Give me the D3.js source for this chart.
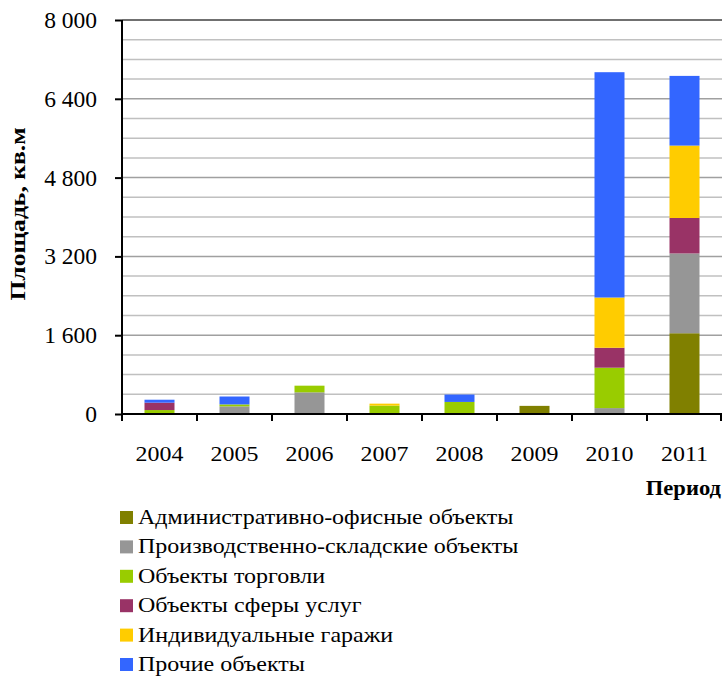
<!DOCTYPE html>
<html>
<head>
<meta charset="utf-8">
<script src="https://cdn.jsdelivr.net/npm/d3@7"></script>
<style>
  html, body { margin: 0; padding: 0; background: #fff; }
  svg { display: block; }
  text { font-family: "Liberation Serif", "Times New Roman", serif; fill: #000; }
</style>
</head>
<body>
<svg id="chart" width="722" height="676"></svg>
<script>
// ---- data ----
const years = ["2004", "2005", "2006", "2007", "2008", "2009", "2010", "2011"];
const seriesNames = [
  "Административно-офисные объекты",
  "Производственно-складские объекты",
  "Объекты торговли",
  "Объекты сферы услуг",
  "Индивидуальные гаражи",
  "Прочие объекты"
];
const adminOffice = [0, 0, 15, 0, 0, 165, 0, 1640];
const industrialWarehouse = [0, 155, 425, 0, 0, 0, 120, 1620];
const trade = [80, 40, 135, 170, 245, 0, 820, 0];
const services = [150, 0, 0, 0, 0, 0, 405, 720];
const garages = [0, 0, 0, 40, 0, 0, 1020, 1470];
const other = [60, 160, 0, 0, 150, 0, 4575, 1415];
const yTicks = [0, 1600, 3200, 4800, 6400, 8000];
const yTitle = "Площадь, кв.м";
const xTitle = "Период";

const seriesValues = [adminOffice, industrialWarehouse, trade, services, garages, other];
const colors = ["#808000", "#969696", "#99CC00", "#993366", "#FFCC00", "#3366FF"];

(function () {
// ---- layout ----
const svg = d3.select("#chart");
const pLeft = 122, pRight = 722, pTop = 20, pBottom = 414;
const serif = "Liberation Serif, Times New Roman, serif";

const x = d3.scaleBand().domain(years).range([pLeft, pRight]).padding(0);
const y = d3.scaleLinear().domain([0, 8000]).range([pBottom, pTop]);

const locale = d3.formatLocale({ decimal: ",", thousands: " ", grouping: [3], currency: ["", ""] });
const fmt = locale.format(",d");

// gridlines every 400
const gridVals = d3.range(400, 8001, 400);
svg.append("g").selectAll("line").data(gridVals).join("line")
  .attr("x1", pLeft).attr("x2", pRight)
  .attr("y1", d => y(d)).attr("y2", d => y(d))
  .attr("stroke", d => d === 8000 ? "#404040" : (d % 1600 === 0 ? "#a0a0a0" : "#c0c0c0"))
  .attr("stroke-width", 1.5);

// stacked data
const table = years.map((yr, i) => {
  const o = { year: yr };
  seriesNames.forEach((s, j) => { o[s] = seriesValues[j][i]; });
  return o;
});
const stack = d3.stack().keys(seriesNames)(table);

const bw = x.bandwidth() * 0.4;
svg.append("g").selectAll("g").data(stack).join("g")
  .attr("fill", (d, i) => colors[i])
  .selectAll("rect").data(d => d.filter(p => p[1] - p[0] > 0)).join("rect")
  .attr("x", d => x(d.data.year) + (x.bandwidth() - bw) / 2)
  .attr("width", bw)
  .attr("y", d => y(d[1]))
  .attr("height", d => y(d[0]) - y(d[1]));

// y axis
const yAxis = d3.axisLeft(y).tickValues(yTicks).tickFormat(fmt).tickSize(7).tickPadding(18);
const gy = svg.append("g").attr("transform", `translate(${pLeft},0)`).call(yAxis);
gy.select(".domain").attr("stroke", "#000").attr("stroke-width", 2).attr("d", `M0,${pTop}V${pBottom}`);
gy.selectAll(".tick line").attr("stroke", "#000").attr("stroke-width", 2);
gy.selectAll(".tick text").attr("font-size", 23.5).attr("font-family", serif);

// x axis
const xAxis = d3.axisBottom(x).tickSize(0).tickPadding(32);
const gx = svg.append("g").attr("transform", `translate(0,${pBottom})`).call(xAxis);
gx.select(".domain").attr("stroke", "#000").attr("stroke-width", 2).attr("d", `M${pLeft},0H${pRight}`);
gx.selectAll(".tick text")
  .attr("font-size", 21).attr("font-family", serif)
  .attr("transform", "scale(1.14,1)")
  .attr("x", 0);
// category boundary ticks
const bounds = years.map(yv => x(yv)).concat([pRight - 1]);
gx.append("g").selectAll("line").data(bounds).join("line")
  .attr("x1", d => d).attr("x2", d => d).attr("y1", 0).attr("y2", 7)
  .attr("stroke", "#000").attr("stroke-width", 2);

// titles
svg.append("text")
  .attr("transform", "translate(25,214) rotate(-90) scale(1.28,1)")
  .attr("text-anchor", "middle")
  .attr("font-size", 20).attr("font-weight", "bold")
  .text(yTitle);
svg.append("text")
  .attr("transform", "translate(721,495) scale(1.13,1)")
  .attr("text-anchor", "end")
  .attr("font-size", 20).attr("font-weight", "bold")
  .text(xTitle);

// legend
const lg = svg.append("g");
seriesNames.forEach((s, i) => {
  const cy = 517.5 + i * 29.4;
  lg.append("rect").attr("x", 120).attr("y", cy - 6.5).attr("width", 13).attr("height", 13).attr("fill", colors[i]);
  lg.append("text").attr("transform", `translate(138,${cy + 6.5}) scale(1.2,1)`).attr("font-size", 20).text(s);
});
})();
</script>
</body>
</html>
